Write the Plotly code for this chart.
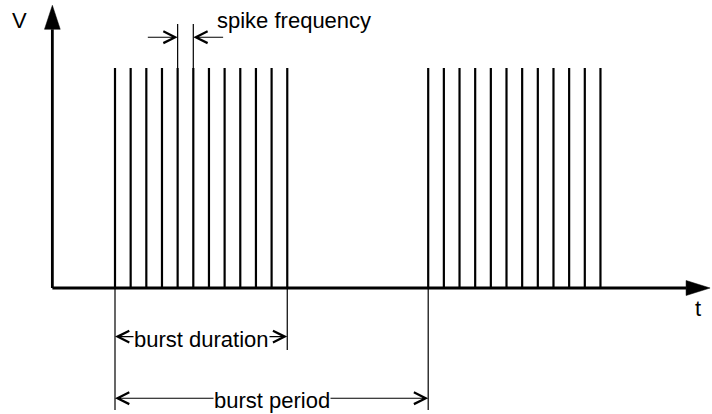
import plotly.graph_objects as go

# ---------------- data ----------------
burst1_spike_times = [0, 1, 2, 3, 4, 5, 6, 7, 8, 9, 10, 11]
burst2_spike_times = [20, 21, 22, 23, 24, 25, 26, 27, 28, 29, 30, 31]
spike_amplitude = 1.0
burst_duration = [0, 11]      # start, end of first burst
burst_period = [0, 20]        # start of burst 1, start of burst 2
spike_pair = [4, 5]           # neighbouring spikes used for "spike frequency"
axis_labels = ["V", "t"]
dimension_labels = ["spike frequency", "burst duration", "burst period"]

# ---------------- layout constants ----------------
PX_PER_T = 15.66      # horizontal pixels per time unit
PX_PER_V = 220.0      # vertical pixels per voltage unit
T_AXIS = [-4, 38]     # time-axis extent
V_AXIS_TOP = 1.285    # top of voltage axis
HEAD_LEN_PX, HEAD_HALF_PX = 24, 7.5
FONT = dict(family="Liberation Sans, Arial, sans-serif", size=22, color="black")

fig = go.Figure()

# spikes
sx, sy = [], []
for t in burst1_spike_times + burst2_spike_times:
    sx += [t, t, None]
    sy += [0, spike_amplitude, None]
fig.add_trace(go.Scatter(x=sx, y=sy, mode="lines",
                         line=dict(color="black", width=2.2), hoverinfo="skip"))

# thin guide lines
gx, gy = [], []
for t in spike_pair:
    gx += [t, t, None]
    gy += [spike_amplitude, spike_amplitude * 1.2, None]
gx += [burst_duration[1], burst_duration[1], None]
gy += [0, -0.282, None]
for t in burst_period:
    gx += [t, t, None]
    gy += [0, -0.555, None]
fig.add_trace(go.Scatter(x=gx, y=gy, mode="lines",
                         line=dict(color="black", width=1.2), hoverinfo="skip"))

# axes lines
hl_t = HEAD_LEN_PX / PX_PER_T
hl_v = HEAD_LEN_PX / PX_PER_V
hh_t = HEAD_HALF_PX / PX_PER_T
hh_v = HEAD_HALF_PX / PX_PER_V
fig.add_trace(go.Scatter(x=[T_AXIS[0], T_AXIS[1] - hl_t, None, T_AXIS[0], T_AXIS[0]],
                         y=[0, 0, None, 0, V_AXIS_TOP - hl_v],
                         mode="lines", line=dict(color="black", width=2.8),
                         hoverinfo="skip"))
# axis arrowheads (filled triangles at the axis ends)
fig.add_trace(go.Scatter(x=[T_AXIS[1], T_AXIS[1] - hl_t, T_AXIS[1] - hl_t, T_AXIS[1]],
                         y=[0, hh_v, -hh_v, 0], mode="lines", fill="toself",
                         fillcolor="black", line=dict(color="black", width=0.5),
                         hoverinfo="skip"))
fig.add_trace(go.Scatter(x=[T_AXIS[0], T_AXIS[0] - hh_t * 1.05, T_AXIS[0] + hh_t * 1.05, T_AXIS[0]],
                         y=[V_AXIS_TOP, V_AXIS_TOP - hl_v, V_AXIS_TOP - hl_v, V_AXIS_TOP],
                         mode="lines", fill="toself",
                         fillcolor="black", line=dict(color="black", width=0.5),
                         hoverinfo="skip"))


def dim_arrow(x_tail, x_head, y):
    return dict(x=x_head, y=y, ax=x_tail, ay=y, xref="x", yref="y",
                axref="x", ayref="y", text="", showarrow=True,
                arrowhead=5, arrowsize=2.1, arrowwidth=1.1,
                arrowcolor="black", standoff=0)


y_sf = 1.14
y_bd = -0.221
y_bp = -0.501
annotations = [
    dim_arrow(spike_pair[0] - 2, spike_pair[0], y_sf),
    dim_arrow(spike_pair[1] + 2, spike_pair[1], y_sf),
    dim_arrow(sum(burst_duration) / 2, burst_duration[0], y_bd),
    dim_arrow(sum(burst_duration) / 2, burst_duration[1], y_bd),
    dim_arrow(sum(burst_period) / 2, burst_period[0], y_bp),
    dim_arrow(sum(burst_period) / 2, burst_period[1], y_bp),
    dict(x=-6.07, y=1.218, text=axis_labels[0], showarrow=False, font=FONT),
    dict(x=37.2, y=-0.095, text=axis_labels[1], showarrow=False, font=FONT),
    dict(x=6.4, y=1.215, text=dimension_labels[0], showarrow=False,
         xanchor="left", font=FONT),
    dict(x=sum(burst_duration) / 2, y=y_bd - 0.011, text=dimension_labels[1],
         showarrow=False, font=FONT, bgcolor="white", borderpad=0),
    dict(x=sum(burst_period) / 2, y=y_bp - 0.011, text=dimension_labels[2],
         showarrow=False, font=FONT, bgcolor="white", borderpad=0),
]

fig.update_layout(
    width=712, height=414,
    margin=dict(l=0, r=0, t=0, b=0),
    paper_bgcolor="white", plot_bgcolor="white",
    showlegend=False,
    xaxis=dict(visible=False, range=[-115 / PX_PER_T, 597 / PX_PER_T], fixedrange=True),
    yaxis=dict(visible=False, range=[-126 / PX_PER_V, 288 / PX_PER_V], fixedrange=True),
    annotations=annotations,
)

fig.write_html("out.html", config={"displayModeBar": False},
               post_script="document.body.style.margin='0';")
